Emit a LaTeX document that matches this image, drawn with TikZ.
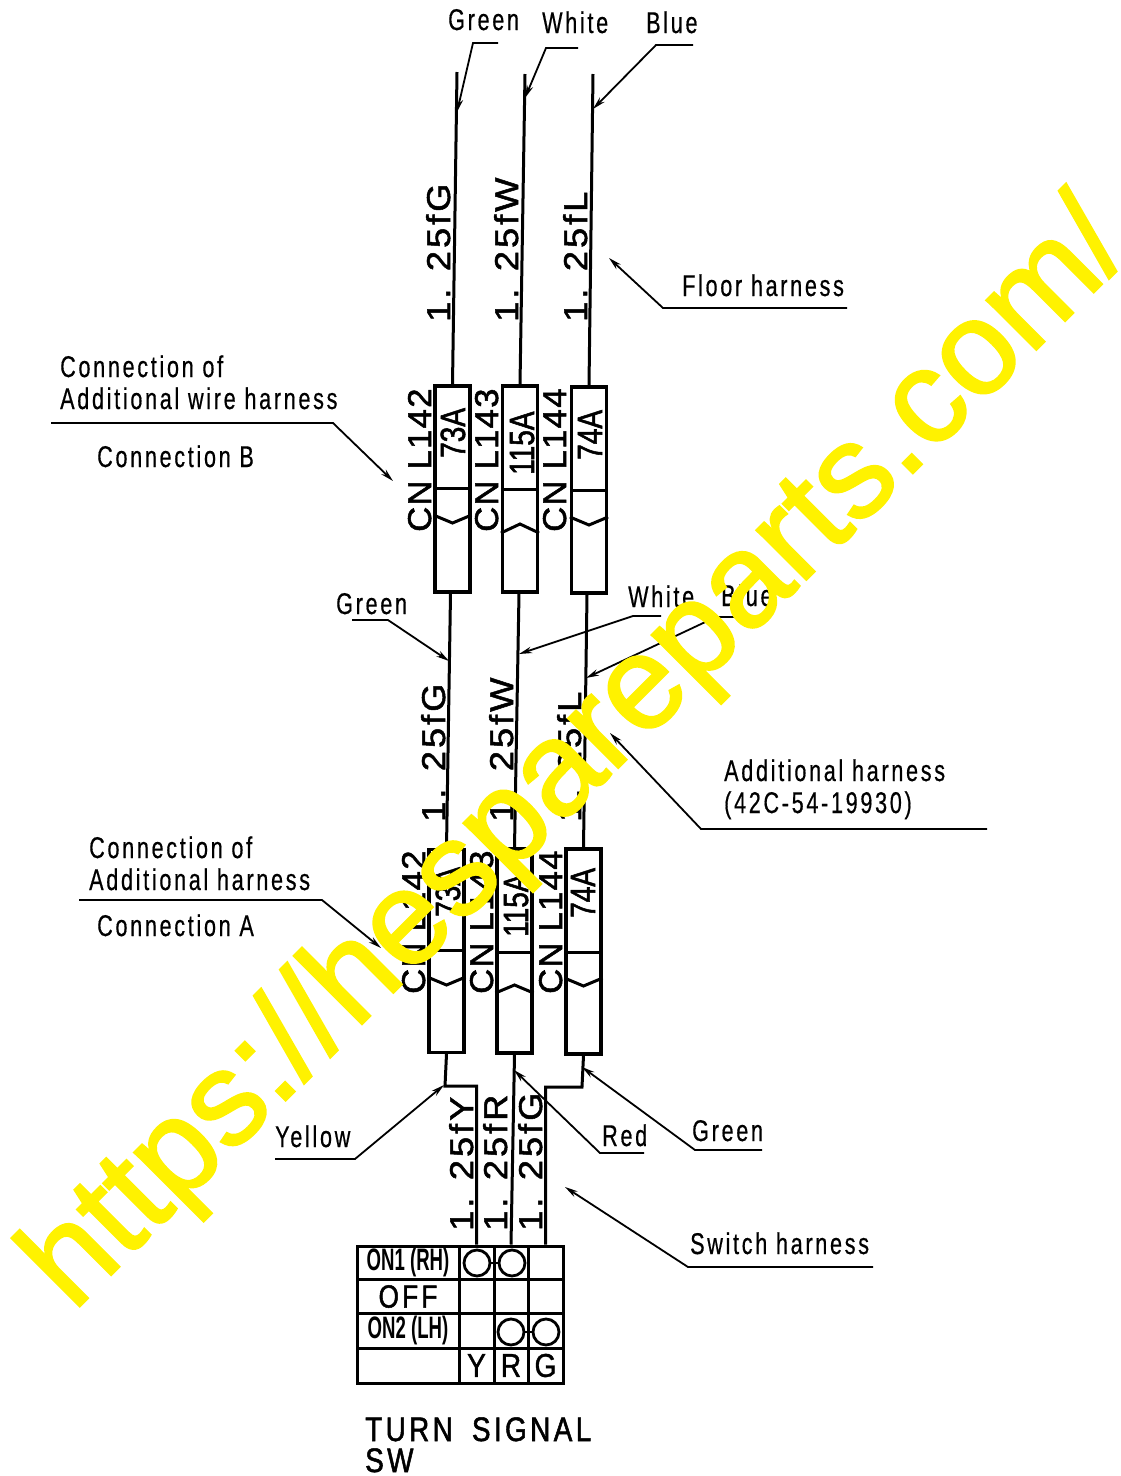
\documentclass[tikz,border=0pt]{standalone}
\usepackage{fontspec}
\usetikzlibrary{arrows.meta}
\setmainfont{Liberation Sans}
\newfontfamily\lblf[FakeStretch=0.72,LetterSpace=9,FakeBold=0.5]{Liberation Sans}
\newfontfamily\wiref[FakeStretch=1.1,LetterSpace=9,FakeBold=1.5]{Liberation Sans}
\newfontfamily\cnf[FakeStretch=1.05,LetterSpace=4,FakeBold=1.5]{Liberation Sans}
\newfontfamily\numf[FakeStretch=0.8,FakeBold=1.5]{Liberation Sans}
\newfontfamily\onf[FakeStretch=0.6]{Liberation Sans Bold}
\newfontfamily\tblf[FakeStretch=0.85,FakeBold=1.2]{Liberation Sans}
\newfontfamily\turnf[FakeStretch=0.82,LetterSpace=10,FakeBold=1.5]{Liberation Sans}
\newfontfamily\wmf[FakeBold=1.6]{Liberation Sans}
\newcommand\fz[1]{\fontsize{#1}{#1}\selectfont}
\tikzset{
  x=1pt,y=-1pt,
  lbl/.style={anchor=base west,inner sep=0pt,font=\lblf\fz{30}},
  turnlbl/.style={anchor=base west,inner sep=0pt,font=\turnf\fz{34}},
  wirelbl/.style={anchor=base west,inner sep=0pt,rotate=90,font=\wiref\fz{33}},
  cnlbl/.style={anchor=base west,inner sep=0pt,rotate=90,font=\cnf\fz{33}},
  numlbl/.style={anchor=base west,inner sep=0pt,rotate=90,font=\numf\fz{35}},
  conbox/.style={draw,line width=3.2pt,minimum width=35pt,minimum height=206pt,inner sep=0pt},
  wire/.style={line width=3pt},
  divline/.style={line width=3pt},
  leader/.style={line width=1.8pt,-{Stealth[length=13pt,width=6.5pt]}},
  cell/.style={draw,line width=3pt,inner sep=0pt},
  lamp/.style={draw,circle,line width=2.8pt,minimum size=26pt,inner sep=0pt},
  tbl/.style={inner sep=0pt,font=\tblf\fz{33}},
  onl/.style={inner sep=0pt,font=\onf\fz{31}},
  wm/.style={anchor=base west,inner sep=0pt,rotate=45,text=yellow,font=\wmf\fz{133}}
}
\begin{document}
\begin{tikzpicture}
\useasboundingbox (0,0) rectangle (1120,1476);
% connector boxes
\node[conbox] (u1) at (452.5,489) {};
\node[conbox] (u2) at (520,489) {};
\node[conbox] (u3) at (589,490) {};
\node[conbox,minimum height=203pt] (l1) at (446.5,951) {};
\node[conbox,minimum height=204pt] (l2) at (514.5,951) {};
\node[conbox,minimum height=205pt] (l3) at (583.5,951.5) {};
% dividers and chevrons
\draw[divline] (u1.west|-0,488) -- (u1.east|-0,488);
\draw[divline] (u2.west|-0,489) -- (u2.east|-0,489);
\draw[divline] (u3.west|-0,490) -- (u3.east|-0,490);
\draw[divline] (u1.west|-0,515) -- (u1.center|-0,523) -- (u1.east|-0,515);
\draw[divline] (u2.west|-0,533) -- (u2.center|-0,524) -- (u2.east|-0,533);
\draw[divline] (u3.west|-0,517) -- (u3.center|-0,525) -- (u3.east|-0,517);
\draw[divline] (l1.west|-0,950) -- (l1.east|-0,950);
\draw[divline] (l2.west|-0,952) -- (l2.east|-0,952);
\draw[divline] (l3.west|-0,952) -- (l3.east|-0,952);
\draw[divline] (l1.west|-0,977) -- (l1.center|-0,985) -- (l1.east|-0,977);
\draw[divline] (l2.west|-0,993) -- (l2.center|-0,985) -- (l2.east|-0,993);
\draw[divline] (l3.west|-0,978) -- (l3.center|-0,986) -- (l3.east|-0,978);
% switch table
\foreach \n/\xa/\xb/\ya/\yb in {
  a0/357/459/1246/1279.5,a1/459/494/1246/1279.5,a2/494/528/1246/1279.5,a3/528/563/1246/1279.5,
  b0/357/459/1279.5/1313.5,b1/459/494/1279.5/1313.5,b2/494/528/1279.5/1313.5,b3/528/563/1279.5/1313.5,
  c0/357/459/1313.5/1348,c1/459/494/1313.5/1348,c2/494/528/1313.5/1348,c3/528/563/1313.5/1348,
  d0/357/459/1348/1383,d1/459/494/1348/1383,d2/494/528/1348/1383,d3/528/563/1348/1383}{
  \pgfmathsetmacro\cw{\xb-\xa}\pgfmathsetmacro\ch{\yb-\ya}
  \pgfmathsetmacro\cx{(\xa+\xb)/2}\pgfmathsetmacro\cy{(\ya+\yb)/2}
  \node[cell,minimum width=\cw pt,minimum height=\ch pt] (\n) at (\cx,\cy) {};
}
\node[onl] (t1) at (a0) {ON1 (RH)};
\node[tbl,font=\turnf\fz{32}] (t2) at (b0) {OFF};
\node[onl] (t3) at (c0) {ON2 (LH)};
\node[tbl] (ty) at (d1) {Y};
\node[tbl] (tr) at (d2) {R};
\node[tbl] (tg) at (d3) {G};
\node[lamp] (q1) at (477,1263) {};
\node[lamp] (q2) at (512,1263) {};
\node[lamp] (q3) at (511,1332) {};
\node[lamp] (q4) at (546,1332) {};
\draw[line width=2.4pt] (q1) -- (q2);
\draw[line width=2.4pt] (q3) -- (q4);
% wires
\coordinate (w1) at (457,72);
\coordinate (w2) at (525,74);
\coordinate (w3) at (593,74);
\draw[wire] (w1) -- (u1.north);
\draw[wire] (w2) -- (u2.north);
\draw[wire] (w3) -- (u3.north);
\draw[wire] ([xshift=-2pt]u1.south) -- (l1.north);
\draw[wire] ([xshift=-1pt]u2.south) -- (l2.north);
\draw[wire] ([xshift=-2pt]u3.south) -- (l3.north);
\coordinate (j1) at (445,1086);
\coordinate (j3) at (582,1087);
\draw[wire] (l1.south) -- (j1) -| (a1.north);
\draw[wire] (l2.south) -- (a2.north);
\draw[wire] (l3.south) -- (j3) -| (a3.north);
% wire labels
\node[wirelbl] (wa) at (450,322) {1. 25fG};
\node[wirelbl] (wb) at (518,322) {1. 25fW};
\node[wirelbl] (wc) at (587,322) {1. 25fL};
\node[wirelbl] (wd) at (445,822) {1. 25fG};
\node[wirelbl] (we) at (513,822) {1. 25fW};
\node[wirelbl] (wf) at (581,822) {1. 25fL};
\node[wirelbl] (wg) at (473,1231) {1. 25fY};
\node[wirelbl] (wh) at (507,1231) {1. 25fR};
\node[wirelbl] (wi) at (542,1231) {1. 25fG};
\node[cnlbl] (ca) at (431,532) {CN L142};
\node[cnlbl] (cb) at (498,532) {CN L143};
\node[cnlbl] (cc) at (566,532) {CN L144};
\node[cnlbl] (cd) at (425,994) {CN L142};
\node[cnlbl] (ce) at (493,994) {CN L143};
\node[cnlbl] (cf) at (562,994) {CN L144};
\node[numlbl] (na) at (465,458) {73A};
\node[numlbl] (nb) at (534,475) {115A};
\node[numlbl] (nc) at (602,460) {74A};
\node[numlbl] (nd) at (460,917) {73A};
\node[numlbl] (ne) at (528,937) {115A};
\node[numlbl] (nf) at (595,918) {74A};
% text labels
\node[lbl] (g1) at (448,30) {Green};
\node[lbl] (w1t) at (542,33) {White};
\node[lbl] (b1) at (646,33) {Blue};
\node[lbl] (fh) at (682,296) {Floor harness};
\node[lbl] (co1) at (60,377) {Connection of};
\node[lbl] (co2) at (60,409) {Additional wire harness};
\node[lbl] (cob) at (97,467) {Connection B};
\node[lbl] (g2) at (336,614) {Green};
\node[lbl] (w2t) at (628,607) {White};
\node[lbl] (b2) at (721,606) {Blue};
\node[lbl] (ah1) at (724,781) {Additional harness};
\node[lbl] (ah2) at (724,813) {(42C-54-19930)};
\node[lbl] (co3) at (89,858) {Connection of};
\node[lbl] (co4) at (89,890) {Additional harness};
\node[lbl] (coa) at (97,936) {Connection A};
\node[lbl] (ye) at (275,1147) {Yellow};
\node[lbl] (re) at (602,1146) {Red};
\node[lbl] (g3) at (692,1141) {Green};
\node[lbl] (sh) at (690,1254) {Switch harness};
\node[turnlbl] (ts1) at (365,1441) {TURN\hspace{8pt} SIGNAL};
\node[turnlbl] (ts2) at (365,1472) {SW};
% leader points
\foreach \n/\px/\py in {
  a1/498/43,a2/473/43,a3/457/112,
  b1/578/48,b2/546/48,b3/525/98,
  c1/693/45,c2/656/45,c3/593/109,
  d1/847/308,d2/663/308,d3/609/258,
  e1/51/423,e2/333/423,e3/393/481,
  f1/352/620,f2/388/620,f3/449/661,
  g1/661/616,g2/633/616,g3/519/654,
  h1/737/617,h2/716/617,h3/586/678,
  i1/987/829,i2/701/829,i3/610/733,
  k1/79/900,k2/322/900,k3/381/948,
  m1/275/1159,m2/355/1159,m3/444/1085,
  n1/644/1153,n2/600/1153,n3/514/1070,
  o1/762/1150,o2/695/1150,o3/582/1067,
  p1/873/1267,p2/688/1267,p3/565/1187}{
  \coordinate (ld\n) at (\px,\py);
}
\foreach \k in {a,b,c,d,e,f,g,h,i,k,m,n,o,p}{
  \draw[leader] (ld\k1) -- (ld\k2) -- (ld\k3);
}
% overprinted address
\node[wm] (addr) at (73,1313) {https://hespareparts.com/};
\end{tikzpicture}
\end{document}
